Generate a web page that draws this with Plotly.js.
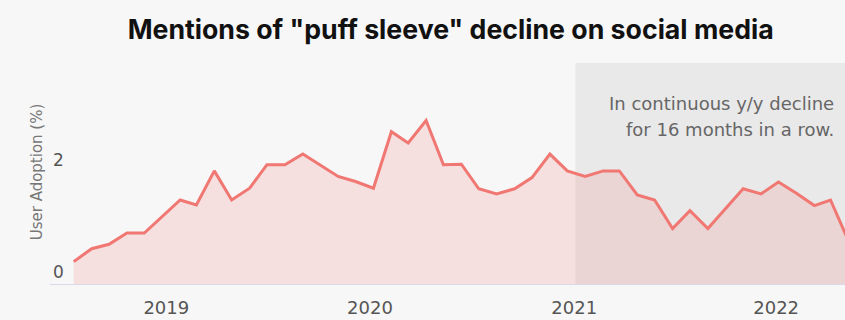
<!DOCTYPE html>
<html>
<head>
<meta charset="utf-8">
<script src="https://cdn.plot.ly/plotly-3.0.1.min.js"></script>
<style>
  html, body { margin: 0; padding: 0; background: #f7f7f7; }
  #chart { width: 845px; height: 320px; }
</style>
</head>
<body>
<div id="chart"></div>
<script>
const months = [
  "2018-08-01","2018-09-01","2018-10-01","2018-11-01","2018-12-01",
  "2019-01-01","2019-02-01","2019-03-01","2019-04-01","2019-05-01","2019-06-01",
  "2019-07-01","2019-08-01","2019-09-01","2019-10-01","2019-11-01","2019-12-01",
  "2020-01-01","2020-02-01","2020-03-01","2020-04-01","2020-05-01","2020-06-01",
  "2020-07-01","2020-08-01","2020-09-01","2020-10-01","2020-11-01","2020-12-01",
  "2021-01-01","2021-02-01","2021-03-01","2021-04-01","2021-05-01","2021-06-01",
  "2021-07-01","2021-08-01","2021-09-01","2021-10-01","2021-11-01","2021-12-01",
  "2022-01-01","2022-02-01","2022-03-01","2022-04-01"
];
const adoption = [
  0.40, 0.63, 0.71, 0.91, 0.91,
  1.20, 1.50, 1.41, 2.02, 1.50, 1.71,
  2.13, 2.13, 2.32, 2.13, 1.92, 1.83,
  1.71, 2.72, 2.52, 2.92, 2.13, 2.14,
  1.70, 1.61, 1.70, 1.90, 2.32, 2.02,
  1.92, 2.02, 2.02, 1.59, 1.50, 0.99,
  1.31, 0.99, 1.36, 1.70, 1.61, 1.82,
  1.62, 1.40, 1.50, 0.77
];
const yearLabels = ["2019", "2020", "2021", "2022"];
const yearTickDates = ["2019-01-08", "2019-12-26", "2020-12-13", "2021-11-27"];
const yTicks = [0, 2];
const declineStart = "2020-12-15";
const noteLines = ["In continuous y/y decline", "for 16 months in a row."];

const bodyFont = "DejaVu Sans, sans-serif";

const trace = {
  x: months,
  y: adoption,
  type: "scatter",
  mode: "lines",
  line: { color: "#f07772", width: 3 },
  fill: "tozeroy",
  fillcolor: "rgba(240,119,114,0.18)",
  hoverinfo: "skip"
};

const layout = {
  width: 845,
  height: 320,
  paper_bgcolor: "#f7f7f7",
  plot_bgcolor: "#f7f7f7",
  margin: { l: 50, r: 0, t: 60, b: 36 },
  showlegend: false,
  title: {
    text: 'Mentions of "puff sleeve" decline on social media',
    font: { family: "Inter, sans-serif", size: 26.7, color: "#111111", weight: 700 },
    x: 0.504, xref: "paper", xanchor: "center",
    y: 32, yref: "container", yanchor: "middle"
  },
  xaxis: {
    type: "date",
    range: ["2018-06-21", "2022-03-26"],
    tickmode: "array",
    tickvals: yearTickDates,
    ticktext: yearLabels,
    showgrid: false,
    zeroline: false,
    showline: true,
    linecolor: "#dcd8ec",
    linewidth: 1,
    ticks: "",
    tickfont: { family: bodyFont, size: 18, color: "#555555" },
    ticklabelstandoff: 7
  },
  yaxis: {
    range: [0, 4],
    tickmode: "array",
    tickvals: yTicks,
    ticktext: yTicks.map(String),
    ticklabelposition: "inside top",
    showgrid: false,
    zeroline: false,
    showline: false,
    ticks: "",
    tickfont: { family: bodyFont, size: 17, color: "#555555" },
    title: {
      text: "User Adoption (%)",
      font: { family: bodyFont, size: 15, color: "#777777" },
      standoff: 6
    }
  },
  shapes: [{
    type: "rect",
    xref: "x", yref: "paper",
    x0: declineStart, x1: "2022-12-31",
    y0: 0, y1: 0.987,
    fillcolor: "#e9e9e9",
    line: { width: 0 },
    layer: "below"
  }],
  annotations: noteLines.map((t, i) => ({
    text: t,
    xref: "paper", yref: "paper",
    x: 0.9887, y: [0.808, 0.688][i],
    xanchor: "right", yanchor: "middle",
    align: "right",
    showarrow: false,
    font: { family: bodyFont, size: 18, color: "#666666" }
  }))
};

Plotly.newPlot("chart", [trace], layout, { displayModeBar: false, staticPlot: true });
</script>
</body>
</html>
